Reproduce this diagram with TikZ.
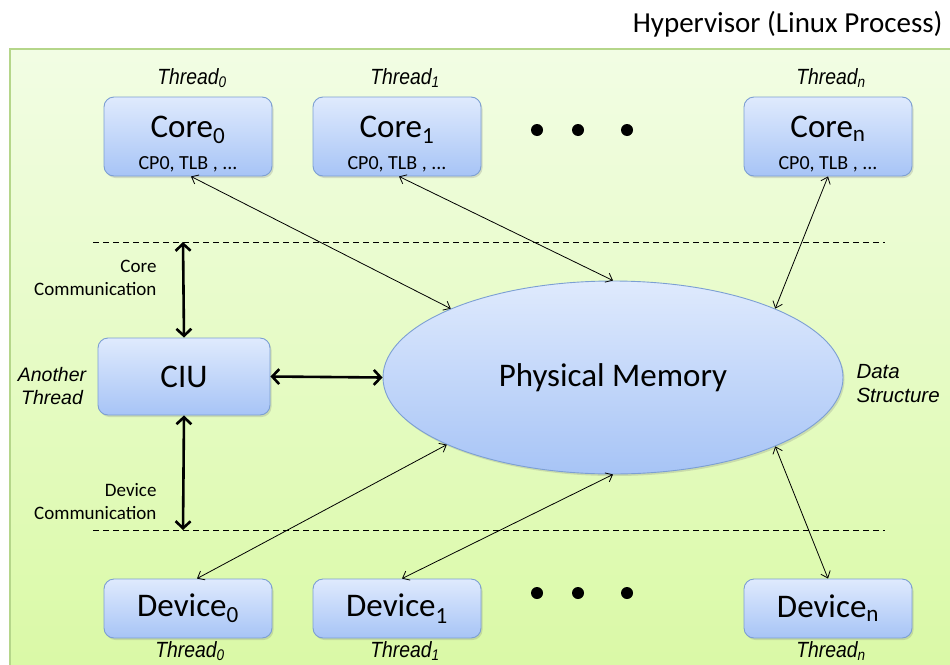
\documentclass[tikz,border=0pt]{standalone}
\usepackage{fontspec}
\setmainfont{Carlito}
\newfontfamily\arialfont{Liberation Sans}
\newfontfamily\narrowfont[FakeStretch=0.88]{Liberation Sans}
\usetikzlibrary{shapes.geometric,arrows.meta,shadows}

\definecolor{frameline}{HTML}{B5D68A}
\definecolor{frametop}{HTML}{F2FDE4}
\definecolor{framebot}{HTML}{D9F9A4}
\definecolor{boxtop}{HTML}{DFEAFD}
\definecolor{boxbot}{HTML}{A7C4F6}
\definecolor{boxline}{HTML}{7C9FD3}

\tikzset{
    unit/.style={draw=boxline, line width=0.9pt, rounded corners=10pt,
        top color=boxtop, bottom color=boxbot, minimum width=168pt,
        inner sep=0pt, align=center,
        drop shadow={shadow xshift=1.5pt, shadow yshift=-2pt, opacity=0.25}},
    bigtext/.style={font=\fontsize{33}{36}\selectfont},
    smalltext/.style={font=\fontsize{20}{22}\selectfont},
    commtext/.style={font=\fontsize{19}{23}\selectfont, align=right},
    sidetext/.style={font=\arialfont\itshape\fontsize{19.5}{22.5}\selectfont},
    threadtext/.style={font=\narrowfont\itshape\fontsize{22}{24}\selectfont},
    thinarrow/.style={line width=0.8pt, {Straight Barb[length=6pt,width=10pt]}-{Straight Barb[length=6pt,width=10pt]}},
    thickarrow/.style={line width=2.6pt, {Straight Barb[length=7pt,width=15pt]}-{Straight Barb[length=7pt,width=15pt]}},
    dot/.style={circle, fill=black, minimum size=12pt, inner sep=0pt}
}

\begin{document}
\begin{tikzpicture}[x=1pt,y=-1pt]
        \useasboundingbox (0,0) rectangle (950,664);
        \clip (0,0) rectangle (950,664);

        % The hypervisor frame
        \draw[draw=frameline, line width=2pt, top color=frametop, bottom color=framebot] (10,49) rectangle (975,690);
        \node[anchor=east, font=\fontsize{29}{31}\selectfont] (title) at (946,24) {Hypervisor (Linux Process)};

        % Draw the cores
        \node[unit, minimum height=79pt,
            label={[bigtext, anchor=base, yshift=-41pt]north:Core\textsubscript{0}},
            label={[smalltext, anchor=base, yshift=7pt]south:CP0, TLB , ...}] (core0) at (188,136.5) {};
        \node[unit, minimum height=79pt,
            label={[bigtext, anchor=base, yshift=-41pt]north:Core\textsubscript{1}},
            label={[smalltext, anchor=base, yshift=7pt]south:CP0, TLB , ...}] (core1) at (397,136.5) {};
        \node[unit, minimum height=79pt,
            label={[bigtext, anchor=base, yshift=-41pt]north:Core\textsubscript{n}},
            label={[smalltext, anchor=base, yshift=7pt]south:CP0, TLB , ...}] (coren) at (828,136.5) {};
        \node[dot] (cdot1) at (537,130) {};
        \node[dot] (cdot2) at (578,130) {};
        \node[dot] (cdot3) at (627,130) {};

        % Threads of the cores
        \node[threadtext] (cthr0) at (192,78) {Thread\textsubscript{0}};
        \node[threadtext] (cthr1) at (405,78) {Thread\textsubscript{1}};
        \node[threadtext] (cthrn) at (831,78) {Thread\textsubscript{n}};

        % CIU and the physical memory
        \node[unit, minimum width=172pt, minimum height=77pt, bigtext] (ciu) at (184,376.5) {CIU};
        \node[ellipse, draw=boxline, line width=0.9pt, top color=boxtop, bottom color=boxbot,
            minimum width=460pt, minimum height=193pt, inner sep=0pt, bigtext,
            drop shadow={shadow xshift=1.5pt, shadow yshift=-2pt, opacity=0.25}] (mem) at (613,377.5) {Physical Memory};
        \node[sidetext, align=center] (another) at (52,386) {Another\\Thread};
        \node[sidetext, align=left, anchor=west, font=\arialfont\itshape\fontsize{20.5}{24}\selectfont] (datastr) at (853,384) {Data\\Structure};

        % Draw the devices
        \node[unit, minimum height=59pt, bigtext] (dev0) at (188,608.5) {Device\textsubscript{0}};
        \node[unit, minimum height=59pt, bigtext] (dev1) at (397,608.5) {Device\textsubscript{1}};
        \node[unit, minimum height=59pt, bigtext] (devn) at (828,608.5) {Device\textsubscript{n}};
        \node[dot] (ddot1) at (537,593) {};
        \node[dot] (ddot2) at (578,593) {};
        \node[dot] (ddot3) at (627,593) {};
        \node[threadtext] (dthr0) at (190,651) {Thread\textsubscript{0}};
        \node[threadtext] (dthr1) at (405,651) {Thread\textsubscript{1}};
        \node[threadtext] (dthrn) at (831,651) {Thread\textsubscript{n}};

        % Dashed borders of the communication
        \coordinate (upL) at (93,242);
        \coordinate (upR) at (885,242);
        \coordinate (lowL) at (93,530);
        \coordinate (lowR) at (885,530);
        \coordinate (upC) at (183,242);
        \coordinate (lowC) at (183,530);
        \draw[dashed, line width=0.8pt, dash pattern=on 6pt off 4pt] (upL) -- (upR);
        \draw[dashed, line width=0.8pt, dash pattern=on 6pt off 4pt] (lowL) -- (lowR);

        % Communication of the CIU
        \draw[thickarrow] (upC) -- (ciu.north);
        \draw[thickarrow] (ciu.south) -- (lowC);
        \draw[thickarrow] (ciu.east) -- (mem.west);
        \node[commtext, anchor=east] (corecomm) at (160,277.5) {Core\\Communication};
        \node[commtext, anchor=east] (devcomm) at (160,501.5) {Device\\Communication};

        % Draw the arrows to the memory
        \draw[thinarrow] ([xshift=3pt]core0.south) -- (mem.157);
        \draw[thinarrow] ([xshift=2pt]core1.south) -- (mem.90);
        \draw[thinarrow] (coren.south) -- (mem.23.5);
        \draw[thinarrow] ([xshift=9pt]dev0.north) -- (mem.202);
        \draw[thinarrow] ([xshift=5pt]dev1.north) -- (mem.270);
        \draw[thinarrow] (devn.north) -- (mem.337);
\end{tikzpicture}
\end{document}
